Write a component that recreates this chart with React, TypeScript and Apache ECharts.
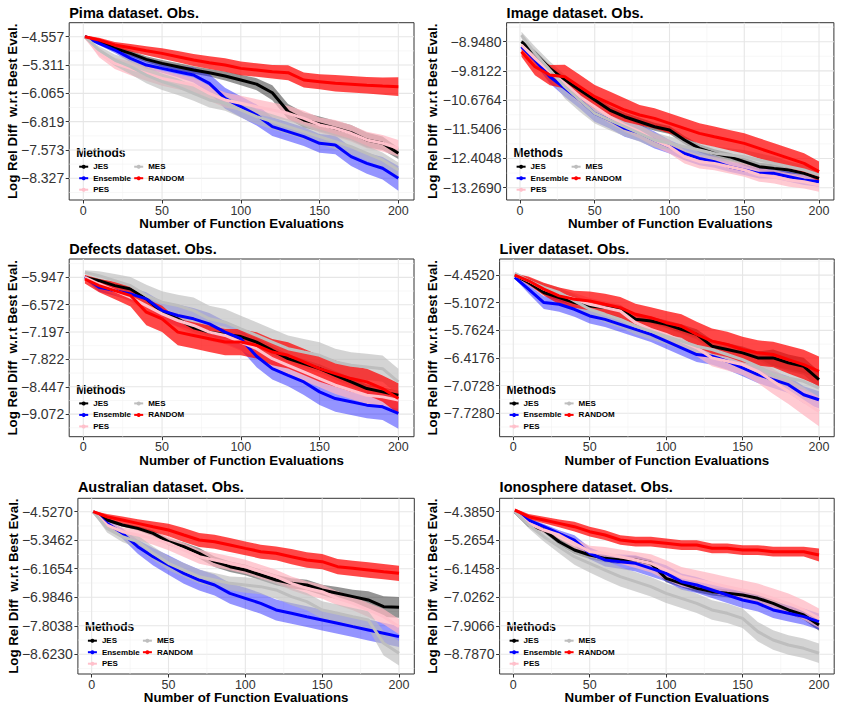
import React, { useEffect, useRef } from "react";
import * as echarts from "echarts";

const EVALS = [1, 10, 20, 30, 40, 50, 60, 70, 80, 90, 100, 110, 120, 130, 140, 150, 160, 170, 180, 190, 200];
const METHODS = ["JES", "Ensemble", "PES", "MES", "RANDOM"];
const LINE_COLORS = ["#000000", "#0000FF", "#FFC0CB", "#BEBEBE", "#FF0000"];
const BAND_COLORS = ["rgba(0,0,0,0.42)", "rgba(0,0,255,0.42)", "rgba(255,182,193,0.72)", "rgba(185,185,185,0.62)", "rgba(255,0,0,0.72)"];
const X_TICKS = [0, 50, 100, 150, 200];
const X_MINOR = [25, 75, 125, 175];
const TITLES = ["Pima dataset. Obs.", "Image dataset. Obs.", "Defects dataset. Obs.", "Liver dataset. Obs.", "Australian dataset. Obs.", "Ionosphere dataset. Obs."];

// ---------- Pima ----------
const PIMA_TICKS = ["-4.557", "-5.311", "-6.065", "-6.819", "-7.573", "-8.327"];
const PIMA_JES = [-4.557, -4.690, -4.867, -5.001, -5.160, -5.267, -5.355, -5.444, -5.515, -5.604, -5.710, -5.820, -6.050, -6.550, -6.775, -6.881, -6.996, -7.111, -7.307, -7.395, -7.661];
const PIMA_ENS = [-4.557, -4.734, -4.912, -5.134, -5.311, -5.400, -5.488, -5.577, -5.799, -6.198, -6.420, -6.641, -6.952, -7.085, -7.218, -7.395, -7.440, -7.750, -7.928, -8.061, -8.327];
const PIMA_PES = [-4.557, -5.001, -5.267, -5.400, -5.533, -5.666, -5.754, -5.843, -6.065, -6.242, -6.331, -6.420, -6.508, -6.597, -6.730, -6.907, -6.996, -7.129, -7.307, -7.395, -7.528];
const PIMA_MES = [-4.557, -4.912, -5.178, -5.355, -5.577, -5.754, -5.887, -6.065, -6.242, -6.331, -6.508, -6.686, -6.819, -6.952, -7.085, -7.218, -7.351, -7.484, -7.661, -7.839, -8.105];
const PIMA_RND = [-4.557, -4.646, -4.779, -4.850, -4.930, -5.001, -5.089, -5.178, -5.249, -5.311, -5.400, -5.444, -5.488, -5.515, -5.710, -5.754, -5.799, -5.825, -5.852, -5.870, -5.887];
const PIMA_JES_ERR = [0.02, 0.05, 0.07, 0.08, 0.08, 0.09, 0.1, 0.1, 0.1, 0.12, 0.14, 0.16, 0.2, 0.2, 0.2, 0.2, 0.2, 0.2, 0.2, 0.18, 0.15];
const PIMA_ENS_ERR = [0.02, 0.05, 0.08, 0.1, 0.1, 0.12, 0.15, 0.2, 0.25, 0.28, 0.28, 0.28, 0.25, 0.25, 0.25, 0.25, 0.25, 0.25, 0.28, 0.3, 0.33];
const PIMA_PES_ERR = [0.02, 0.1, 0.15, 0.18, 0.2, 0.2, 0.2, 0.2, 0.2, 0.2, 0.2, 0.2, 0.2, 0.2, 0.2, 0.2, 0.22, 0.22, 0.22, 0.22, 0.22];
const PIMA_MES_ERR = [0.02, 0.1, 0.15, 0.2, 0.22, 0.22, 0.22, 0.2, 0.2, 0.2, 0.2, 0.2, 0.2, 0.2, 0.2, 0.2, 0.2, 0.2, 0.2, 0.2, 0.2];
const PIMA_RND_ERR = [0.03, 0.06, 0.08, 0.1, 0.12, 0.14, 0.15, 0.16, 0.17, 0.18, 0.18, 0.18, 0.18, 0.2, 0.2, 0.2, 0.22, 0.22, 0.22, 0.23, 0.25];

// ---------- Image ----------
const IMAGE_TICKS = ["-8.9480", "-9.8122", "-10.6764", "-11.5406", "-12.4048", "-13.2690"];
const IMAGE_JES = [-8.948, -9.293, -9.737, -10.082, -10.378, -10.674, -10.970, -11.168, -11.316, -11.464, -11.560, -11.858, -12.105, -12.253, -12.351, -12.499, -12.647, -12.697, -12.746, -12.845, -12.993];
const IMAGE_ENS = [-9.096, -9.491, -9.984, -10.329, -10.674, -11.069, -11.266, -11.513, -11.647, -11.858, -12.055, -12.253, -12.401, -12.499, -12.647, -12.746, -12.845, -12.845, -12.943, -13.042, -13.091];
const IMAGE_PES = [-9.047, -9.441, -9.836, -10.181, -10.576, -10.872, -11.168, -11.414, -11.612, -11.858, -12.055, -12.351, -12.499, -12.549, -12.647, -12.746, -12.894, -12.943, -13.042, -13.091, -13.190];
const IMAGE_MES = [-8.751, -9.293, -9.787, -10.280, -10.674, -11.069, -11.266, -11.464, -11.661, -11.858, -11.957, -12.055, -12.154, -12.253, -12.302, -12.351, -12.450, -12.549, -12.647, -12.746, -12.894];
const IMAGE_RND = [-9.244, -9.688, -9.935, -9.984, -10.280, -10.576, -10.773, -10.970, -11.118, -11.217, -11.365, -11.513, -11.661, -11.760, -11.858, -11.957, -12.105, -12.253, -12.401, -12.549, -12.795];
const IMAGE_JES_ERR = [0.05, 0.1, 0.1, 0.1, 0.12, 0.12, 0.12, 0.12, 0.12, 0.12, 0.12, 0.12, 0.12, 0.12, 0.12, 0.12, 0.12, 0.12, 0.12, 0.12, 0.12];
const IMAGE_ENS_ERR = [0.05, 0.12, 0.2, 0.25, 0.25, 0.25, 0.25, 0.25, 0.25, 0.25, 0.2, 0.2, 0.2, 0.18, 0.15, 0.15, 0.15, 0.15, 0.15, 0.15, 0.15];
const IMAGE_PES_ERR = [0.05, 0.15, 0.2, 0.2, 0.2, 0.2, 0.2, 0.2, 0.2, 0.2, 0.2, 0.2, 0.2, 0.2, 0.2, 0.2, 0.2, 0.2, 0.2, 0.2, 0.2];
const IMAGE_MES_ERR = [0.1, 0.2, 0.25, 0.35, 0.35, 0.3, 0.3, 0.28, 0.25, 0.22, 0.2, 0.2, 0.2, 0.2, 0.2, 0.2, 0.2, 0.2, 0.15, 0.15, 0.15];
const IMAGE_RND_ERR = [0.15, 0.25, 0.3, 0.35, 0.35, 0.35, 0.35, 0.35, 0.3, 0.3, 0.3, 0.3, 0.3, 0.3, 0.3, 0.3, 0.3, 0.3, 0.3, 0.3, 0.3];

// ---------- Defects ----------
const DEFECTS_TICKS = ["-5.947", "-6.572", "-7.197", "-7.822", "-8.447", "-9.072"];
const DEFECTS_JES = [-5.947, -6.023, -6.137, -6.212, -6.440, -6.743, -6.895, -7.100, -7.199, -7.250, -7.300, -7.426, -7.616, -7.805, -7.919, -8.033, -8.185, -8.336, -8.488, -8.564, -8.640];
const DEFECTS_ENS = [-5.947, -6.175, -6.250, -6.326, -6.440, -6.706, -6.819, -6.895, -7.009, -7.199, -7.350, -7.750, -8.033, -8.185, -8.336, -8.564, -8.716, -8.791, -8.867, -8.905, -9.057];
const DEFECTS_PES = [-5.947, -6.099, -6.250, -6.402, -6.592, -6.781, -6.933, -7.047, -7.199, -7.274, -7.426, -7.578, -7.805, -7.957, -8.109, -8.260, -8.412, -8.526, -8.640, -8.678, -8.753];
const DEFECTS_MES = [-5.833, -5.909, -6.023, -6.137, -6.364, -6.516, -6.592, -6.706, -6.895, -6.971, -7.123, -7.274, -7.426, -7.578, -7.654, -7.729, -7.881, -7.957, -7.995, -8.033, -8.336];
const DEFECTS_RND = [-5.985, -6.137, -6.250, -6.364, -6.743, -6.895, -7.199, -7.274, -7.350, -7.426, -7.426, -7.502, -7.654, -7.729, -7.881, -8.033, -8.147, -8.260, -8.336, -8.488, -8.716];
const DEFECTS_JES_ERR = [0.03, 0.05, 0.06, 0.07, 0.08, 0.08, 0.1, 0.1, 0.1, 0.1, 0.1, 0.1, 0.1, 0.1, 0.1, 0.1, 0.1, 0.1, 0.1, 0.1, 0.1];
const DEFECTS_ENS_ERR = [0.05, 0.1, 0.12, 0.15, 0.15, 0.2, 0.25, 0.25, 0.25, 0.25, 0.25, 0.25, 0.25, 0.25, 0.3, 0.3, 0.3, 0.3, 0.3, 0.3, 0.35];
const DEFECTS_PES_ERR = [0.05, 0.1, 0.1, 0.1, 0.12, 0.15, 0.15, 0.2, 0.2, 0.2, 0.2, 0.2, 0.2, 0.2, 0.2, 0.2, 0.2, 0.2, 0.2, 0.2, 0.2];
const DEFECTS_MES_ERR = [0.05, 0.1, 0.15, 0.2, 0.25, 0.25, 0.25, 0.3, 0.3, 0.3, 0.3, 0.3, 0.3, 0.3, 0.3, 0.3, 0.3, 0.3, 0.3, 0.3, 0.3];
const DEFECTS_RND_ERR = [0.1, 0.15, 0.2, 0.25, 0.3, 0.3, 0.3, 0.3, 0.3, 0.3, 0.3, 0.3, 0.3, 0.3, 0.3, 0.3, 0.3, 0.3, 0.3, 0.3, 0.35];

// ---------- Liver ----------
const LIVER_TICKS = ["-4.4520", "-5.1072", "-5.7624", "-6.4176", "-7.0728", "-7.7280"];
const LIVER_JES = [-4.452, -4.627, -4.865, -4.985, -5.104, -5.183, -5.223, -5.263, -5.502, -5.541, -5.621, -5.740, -5.859, -6.138, -6.217, -6.297, -6.416, -6.416, -6.535, -6.615, -6.933];
const LIVER_ENS = [-4.508, -4.786, -5.104, -5.144, -5.263, -5.422, -5.502, -5.621, -5.740, -5.859, -6.018, -6.177, -6.336, -6.376, -6.495, -6.654, -6.813, -6.933, -7.052, -7.290, -7.410];
const LIVER_PES = [-4.452, -4.587, -4.786, -4.905, -5.024, -5.144, -5.223, -5.303, -5.581, -5.740, -5.859, -6.018, -6.177, -6.416, -6.495, -6.575, -6.734, -6.972, -7.211, -7.450, -7.688];
const LIVER_MES = [-4.412, -4.587, -4.746, -4.865, -5.064, -5.263, -5.382, -5.502, -5.661, -5.780, -5.899, -6.018, -6.138, -6.217, -6.336, -6.456, -6.615, -6.813, -6.893, -6.972, -7.131];
const LIVER_RND = [-4.452, -4.587, -4.786, -4.945, -5.024, -5.064, -5.144, -5.223, -5.382, -5.462, -5.581, -5.661, -5.859, -6.018, -6.098, -6.217, -6.297, -6.336, -6.456, -6.575, -6.734];
const LIVER_JES_ERR = [0.02, 0.05, 0.06, 0.08, 0.08, 0.08, 0.1, 0.1, 0.1, 0.1, 0.1, 0.12, 0.12, 0.15, 0.15, 0.15, 0.15, 0.2, 0.2, 0.2, 0.2];
const LIVER_ENS_ERR = [0.03, 0.1, 0.15, 0.18, 0.18, 0.18, 0.18, 0.18, 0.18, 0.18, 0.18, 0.18, 0.18, 0.2, 0.2, 0.2, 0.2, 0.2, 0.2, 0.2, 0.2];
const LIVER_PES_ERR = [0.03, 0.08, 0.1, 0.12, 0.15, 0.15, 0.15, 0.15, 0.15, 0.15, 0.15, 0.18, 0.2, 0.2, 0.22, 0.25, 0.28, 0.3, 0.3, 0.33, 0.35];
const LIVER_MES_ERR = [0.03, 0.08, 0.1, 0.12, 0.15, 0.15, 0.2, 0.2, 0.2, 0.2, 0.2, 0.2, 0.2, 0.2, 0.2, 0.2, 0.2, 0.2, 0.2, 0.2, 0.2];
const LIVER_RND_ERR = [0.03, 0.1, 0.15, 0.2, 0.2, 0.22, 0.25, 0.25, 0.25, 0.25, 0.28, 0.28, 0.3, 0.3, 0.3, 0.3, 0.3, 0.3, 0.33, 0.35, 0.35];

// ---------- Australian ----------
const AUS_TICKS = ["-4.5270", "-5.3462", "-6.1654", "-6.9846", "-7.8038", "-8.6230"];
const AUS_JES = [-4.527, -4.766, -4.910, -5.006, -5.149, -5.388, -5.532, -5.723, -5.963, -6.106, -6.202, -6.345, -6.489, -6.585, -6.632, -6.776, -6.872, -6.967, -7.063, -7.254, -7.274];
const AUS_ENS = [-4.527, -4.862, -5.149, -5.532, -5.819, -6.058, -6.297, -6.489, -6.632, -6.872, -7.015, -7.159, -7.350, -7.446, -7.542, -7.637, -7.733, -7.829, -7.924, -8.020, -8.116];
const AUS_PES = [-4.527, -4.910, -5.101, -5.197, -5.293, -5.436, -5.628, -5.819, -5.915, -6.010, -6.106, -6.250, -6.393, -6.585, -6.728, -6.824, -7.015, -7.159, -7.350, -7.542, -7.829];
const AUS_MES = [-4.527, -5.006, -5.245, -5.388, -5.723, -6.010, -6.202, -6.393, -6.489, -6.585, -6.632, -6.680, -6.776, -6.967, -7.111, -7.350, -7.446, -7.542, -7.637, -8.307, -8.594];
const AUS_RND = [-4.527, -4.671, -4.766, -4.862, -4.958, -5.053, -5.197, -5.340, -5.388, -5.484, -5.580, -5.675, -5.723, -5.819, -5.915, -5.963, -6.106, -6.154, -6.202, -6.250, -6.297];
const AUS_JES_ERR = [0.02, 0.05, 0.05, 0.06, 0.08, 0.1, 0.12, 0.15, 0.15, 0.15, 0.15, 0.15, 0.15, 0.15, 0.15, 0.15, 0.18, 0.2, 0.25, 0.3, 0.3];
const AUS_ENS_ERR = [0.03, 0.1, 0.15, 0.2, 0.25, 0.28, 0.3, 0.3, 0.3, 0.3, 0.3, 0.3, 0.3, 0.3, 0.3, 0.3, 0.3, 0.3, 0.3, 0.3, 0.3];
const AUS_PES_ERR = [0.03, 0.1, 0.12, 0.15, 0.18, 0.2, 0.2, 0.2, 0.2, 0.2, 0.2, 0.2, 0.2, 0.2, 0.2, 0.2, 0.2, 0.2, 0.2, 0.22, 0.22];
const AUS_MES_ERR = [0.03, 0.12, 0.15, 0.18, 0.2, 0.2, 0.2, 0.2, 0.2, 0.2, 0.22, 0.22, 0.25, 0.25, 0.25, 0.25, 0.25, 0.25, 0.25, 0.35, 0.35];
const AUS_RND_ERR = [0.03, 0.08, 0.1, 0.12, 0.15, 0.18, 0.2, 0.2, 0.2, 0.2, 0.2, 0.2, 0.2, 0.22, 0.22, 0.22, 0.22, 0.22, 0.22, 0.22, 0.22];

// ---------- Ionosphere ----------
const IONO_TICKS = ["-4.3850", "-5.2654", "-6.1458", "-7.0262", "-7.9066", "-8.7870"];
const IONO_JES = [-4.385, -4.796, -4.951, -5.311, -5.568, -5.722, -5.825, -5.876, -5.876, -5.979, -6.442, -6.596, -6.751, -6.853, -6.905, -6.956, -7.059, -7.213, -7.419, -7.573, -7.882];
const IONO_ENS = [-4.385, -4.642, -4.848, -5.054, -5.259, -5.671, -5.876, -5.928, -5.979, -6.133, -6.288, -6.545, -6.648, -6.802, -6.956, -7.111, -7.213, -7.419, -7.522, -7.625, -7.779];
const IONO_PES = [-4.385, -4.745, -4.951, -5.105, -5.362, -5.619, -5.671, -5.773, -5.876, -5.979, -6.185, -6.391, -6.493, -6.596, -6.699, -6.802, -6.905, -7.059, -7.213, -7.419, -7.676];
const IONO_MES = [-4.385, -4.796, -5.156, -5.465, -5.773, -5.979, -6.185, -6.391, -6.545, -6.699, -6.905, -7.059, -7.213, -7.419, -7.522, -7.676, -8.088, -8.345, -8.499, -8.602, -8.756];
const IONO_RND = [-4.334, -4.539, -4.642, -4.745, -4.848, -5.002, -5.105, -5.259, -5.311, -5.311, -5.362, -5.414, -5.414, -5.516, -5.516, -5.568, -5.568, -5.619, -5.619, -5.619, -5.722];
const IONO_JES_ERR = [0.03, 0.06, 0.08, 0.1, 0.12, 0.12, 0.12, 0.12, 0.12, 0.12, 0.12, 0.12, 0.12, 0.12, 0.12, 0.12, 0.12, 0.12, 0.12, 0.15, 0.18];
const IONO_ENS_ERR = [0.03, 0.06, 0.08, 0.1, 0.15, 0.18, 0.2, 0.22, 0.25, 0.25, 0.25, 0.25, 0.25, 0.25, 0.25, 0.25, 0.25, 0.25, 0.25, 0.25, 0.25];
const IONO_PES_ERR = [0.03, 0.08, 0.1, 0.12, 0.15, 0.18, 0.2, 0.22, 0.25, 0.28, 0.3, 0.3, 0.3, 0.3, 0.3, 0.3, 0.3, 0.3, 0.3, 0.3, 0.3];
const IONO_MES_ERR = [0.03, 0.1, 0.15, 0.2, 0.25, 0.28, 0.3, 0.3, 0.3, 0.3, 0.3, 0.3, 0.3, 0.3, 0.3, 0.3, 0.3, 0.3, 0.3, 0.3, 0.3];
const IONO_RND_ERR = [0.05, 0.08, 0.1, 0.12, 0.15, 0.15, 0.15, 0.15, 0.15, 0.15, 0.15, 0.15, 0.15, 0.15, 0.15, 0.15, 0.15, 0.15, 0.15, 0.15, 0.2];

const PANELS = [
  { ticks: PIMA_TICKS, means: [PIMA_JES, PIMA_ENS, PIMA_PES, PIMA_MES, PIMA_RND], errs: [PIMA_JES_ERR, PIMA_ENS_ERR, PIMA_PES_ERR, PIMA_MES_ERR, PIMA_RND_ERR] },
  { ticks: IMAGE_TICKS, means: [IMAGE_JES, IMAGE_ENS, IMAGE_PES, IMAGE_MES, IMAGE_RND], errs: [IMAGE_JES_ERR, IMAGE_ENS_ERR, IMAGE_PES_ERR, IMAGE_MES_ERR, IMAGE_RND_ERR] },
  { ticks: DEFECTS_TICKS, means: [DEFECTS_JES, DEFECTS_ENS, DEFECTS_PES, DEFECTS_MES, DEFECTS_RND], errs: [DEFECTS_JES_ERR, DEFECTS_ENS_ERR, DEFECTS_PES_ERR, DEFECTS_MES_ERR, DEFECTS_RND_ERR] },
  { ticks: LIVER_TICKS, means: [LIVER_JES, LIVER_ENS, LIVER_PES, LIVER_MES, LIVER_RND], errs: [LIVER_JES_ERR, LIVER_ENS_ERR, LIVER_PES_ERR, LIVER_MES_ERR, LIVER_RND_ERR] },
  { ticks: AUS_TICKS, means: [AUS_JES, AUS_ENS, AUS_PES, AUS_MES, AUS_RND], errs: [AUS_JES_ERR, AUS_ENS_ERR, AUS_PES_ERR, AUS_MES_ERR, AUS_RND_ERR] },
  { ticks: IONO_TICKS, means: [IONO_JES, IONO_ENS, IONO_PES, IONO_MES, IONO_RND], errs: [IONO_JES_ERR, IONO_ENS_ERR, IONO_PES_ERR, IONO_MES_ERR, IONO_RND_ERR] },
];

// axis ranges
const X_MIN = -8.95;
const X_MAX = 209.95;
const Y_RANGES = [
  [-8.905, -4.184],
  [-13.633, -8.386],
  [-9.588, -5.528],
  [-8.286, -4.070],
  [-9.189, -4.142],
  [-9.395, -3.9715],
];

// layout
const LAYOUT = [
  { left: 69.2, top: 22.7, width: 344.8, height: 177.3, titleY: 13.3, yTitleX: 12.7 },
  { left: 506.6, top: 22.7, width: 327.3, height: 177.3, titleY: 13.3, yTitleX: 432.7 },
  { left: 69.2, top: 259, width: 344.8, height: 177.7, titleY: 249.5, yTitleX: 12.7 },
  { left: 499.6, top: 259, width: 334.6, height: 177.7, titleY: 249.5, yTitleX: 432.7 },
  { left: 77.9, top: 498.3, width: 336.4, height: 175.7, titleY: 487.8, yTitleX: 13.3 },
  { left: 499.6, top: 498.3, width: 334.6, height: 175.7, titleY: 487.8, yTitleX: 432.7 },
];

const FONT = "'Liberation Sans', Arial, Helvetica, sans-serif";

function buildOption() {
  const grid: any[] = [];
  const xAxis: any[] = [];
  const yAxis: any[] = [];
  const series: any[] = [];
  const legend: any[] = [];
  const graphic: any[] = [];

  PANELS.forEach((p, i) => {
    const L = LAYOUT[i];
    const [yMin, yMax] = Y_RANGES[i];
    const tickVals = p.ticks.map((t) => parseFloat(t));
    const step = tickVals[0] - tickVals[1];

    grid.push({ left: L.left, top: L.top, width: L.width, height: L.height, show: true, borderColor: "#333333", borderWidth: 1, backgroundColor: "#ffffff" });

    xAxis.push({
      type: "value", gridIndex: i, min: X_MIN, max: X_MAX,
      axisLine: { show: false, onZero: false },
      axisTick: { show: true, customValues: X_TICKS, length: 3.5, lineStyle: { color: "#333333" } },
      axisLabel: { customValues: X_TICKS, fontSize: 12.5, color: "#333333", margin: 4, fontFamily: FONT },
      splitLine: { show: false },
    });

    yAxis.push({
      type: "value", gridIndex: i, min: yMin, max: yMax,
      axisLine: { show: false, onZero: false },
      axisTick: { show: true, customValues: tickVals, length: 3.5, lineStyle: { color: "#333333" } },
      axisLabel: {
        customValues: tickVals, fontSize: 14, color: "#333333", margin: 5, fontFamily: FONT,
        formatter: (v: number) => {
          let best = p.ticks[0];
          let bd = Infinity;
          p.ticks.forEach((t) => { const d = Math.abs(parseFloat(t) - v); if (d < bd) { bd = d; best = t; } });
          return best.replace("-", "\u2212");
        },
      },
      splitLine: { show: false },
    });

    // grid lines (major + minor), drawn through the axes
    const gridData: number[][] = [];
    tickVals.forEach((v) => gridData.push([0, v, 1]));
    const minorY: number[] = [];
    for (let k = 0; k < tickVals.length - 1; k++) minorY.push((tickVals[k] + tickVals[k + 1]) / 2);
    minorY.push(tickVals[0] + step / 2);
    minorY.push(tickVals[tickVals.length - 1] - step / 2);
    minorY.filter((v) => v > yMin && v < yMax).forEach((v) => gridData.push([0, v, 0]));
    X_TICKS.forEach((v) => gridData.push([1, v, 1]));
    X_MINOR.forEach((v) => gridData.push([1, v, 0]));

    series.push({
      type: "custom", xAxisIndex: i, yAxisIndex: i, silent: true, z: 1,
      data: gridData,
      renderItem: (params: any, api: any) => {
        const kind = api.value(0);
        const v = api.value(1);
        const major = api.value(2) === 1;
        const a = kind === 0 ? api.coord([X_MIN, v]) : api.coord([v, yMin]);
        const b = kind === 0 ? api.coord([X_MAX, v]) : api.coord([v, yMax]);
        return {
          type: "line",
          shape: { x1: a[0], y1: a[1], x2: b[0], y2: b[1] },
          style: { stroke: major ? "#E6E6E6" : "#F2F2F2", lineWidth: major ? 1.1 : 0.6 },
        };
      },
    });

    // error bands
    METHODS.forEach((m, mi) => {
      const mean = p.means[mi];
      const err = p.errs[mi];
      const bandData = EVALS.map((x, k) => [x, mean[k] - err[k], mean[k] + err[k]]);
      series.push({
        type: "custom", name: m + " band", xAxisIndex: i, yAxisIndex: i, silent: true, z: 2, clip: true,
        data: bandData,
        renderItem: (params: any, api: any) => {
          if (params.dataIndex !== 0) return null;
          const lower = bandData.map((d) => api.coord([d[0], d[1]]));
          const upper = bandData.map((d) => api.coord([d[0], d[2]])).reverse();
          return { type: "polygon", shape: { points: lower.concat(upper) }, style: { fill: BAND_COLORS[mi], stroke: "none" } };
        },
      });
    });

    // mean lines
    METHODS.forEach((m, mi) => {
      series.push({
        type: "line", name: m, xAxisIndex: i, yAxisIndex: i, z: 3, silent: true,
        data: EVALS.map((x, k) => [x, p.means[mi][k]]),
        symbol: "circle", symbolSize: 4, showSymbol: false,
        lineStyle: { width: 3, color: LINE_COLORS[mi] },
        itemStyle: { color: LINE_COLORS[mi] },
      });
    });

    const bottom = L.top + L.height;
    const legendCommon = {
      orient: "vertical", padding: 0, itemGap: 3.5, itemWidth: 9, itemHeight: 5, selectedMode: false,
      textStyle: { fontSize: 8, fontWeight: "bold", color: "#000000", fontFamily: FONT },
      top: bottom - 37.3,
    };
    legend.push({ ...legendCommon, left: L.left + 9, data: ["JES", "Ensemble", "PES"] });
    legend.push({ ...legendCommon, left: L.left + 64, data: ["MES", "RANDOM"] });

    graphic.push({
      type: "text", left: L.left, top: L.titleY - 8,
      style: { text: TITLES[i], font: `bold 14.5px ${FONT}`, fill: "#000000" },
    });
    graphic.push({
      type: "text", x: L.left + L.width / 2, y: bottom + 23.5,
      style: { text: "Number of Function Evaluations", font: `bold 13.3px ${FONT}`, fill: "#000000", align: "center", verticalAlign: "middle", textAlign: "center", textVerticalAlign: "middle" },
    });
    graphic.push({
      type: "text", x: L.yTitleX, y: L.top + L.height / 2, rotation: Math.PI / 2,
      style: { text: "Log Rel Diff  w.r.t Best Eval.", font: `bold 13.3px ${FONT}`, fill: "#000000", align: "center", verticalAlign: "middle", textAlign: "center", textVerticalAlign: "middle" },
    });
    graphic.push({
      type: "text", x: L.left + 7, y: bottom - 47,
      style: { text: "Methods", font: `bold 12px ${FONT}`, fill: "#000000", align: "left", verticalAlign: "middle", textAlign: "left", textVerticalAlign: "middle" },
    });
  });

  return { animation: false, backgroundColor: "#ffffff", grid, xAxis, yAxis, series, legend, graphic };
}

export default function App() {
  const ref = useRef<HTMLDivElement>(null);
  useEffect(() => {
    document.body.style.margin = "0";
    if (!ref.current) return;
    const chart = echarts.init(ref.current, null, { renderer: "svg" });
    chart.setOption(buildOption() as any);
    return () => chart.dispose();
  }, []);
  return <div ref={ref} style={{ width: 842, height: 708 }} />;
}
